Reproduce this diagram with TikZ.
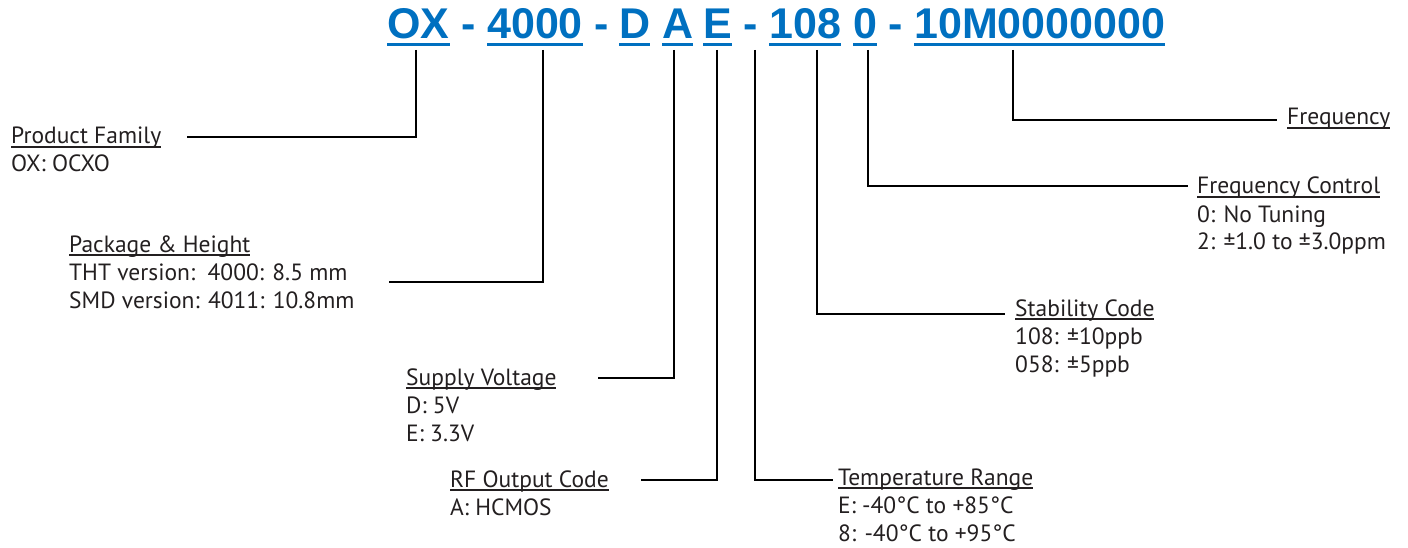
\documentclass[tikz,border=0pt]{standalone}
\usepackage{fontspec}
\setmainfont{PT Sans}
\newfontfamily\titlefont{Liberation Sans}
\definecolor{pnblue}{RGB}{0,112,192}
\definecolor{txtgray}{RGB}{35,31,32}
\newcommand\hdrul[1]{\setbox0\hbox{#1}\rlap{\rule[-3.8pt]{\wd0}{1.5pt}}\box0}
\tikzset{
  lbl/.style={anchor=base west, inner sep=0pt, align=left, text=txtgray,
    font=\fontsize{23.5}{28}\selectfont},
  codepart/.style={anchor=base west, inner sep=0pt, text=pnblue,
    font=\titlefont\bfseries\fontsize{43}{50}\selectfont},
  dashpart/.style={anchor=base, inner sep=0pt, text=pnblue,
    font=\titlefont\bfseries\fontsize{43}{50}\selectfont},
  conn/.style={line width=2.4pt, draw=black, line join=miter},
  uline/.style={line width=3.3pt, draw=pnblue}
}
\begin{document}
\begin{tikzpicture}[x=1pt,y=-1pt]
\useasboundingbox (0,0) rectangle (1408,548);
% part number
\node[codepart] (ox) at (387,39) {OX};
\node[dashpart] (d1) at (468.5,39) {-};
\node[codepart] (n4000) at (487,39) {4000};
\node[dashpart] (d2) at (601.5,39) {-};
\node[codepart] (cd) at (619,39) {D};
\node[codepart] (ca) at (662,39) {A};
\node[codepart] (ce) at (703,39) {E};
\node[dashpart] (d3) at (751,39) {-};
\node[codepart] (n108) at (769,39) {108};
\node[codepart] (cz) at (853,39) {0};
\node[dashpart] (d4) at (895.5,39) {-};
\node[codepart] (freq) at (914,39) {10M0000000};
\foreach \n in {ox,n4000,cd,ca,ce,n108,cz,freq}
  \draw[uline] ([yshift=-5.3pt]\n.base west) -- ([yshift=-5.3pt]\n.base east);
% labels (anchor = baseline of the last line)
\node[lbl] (pf) at (11,172) {\hdrul{Product Family}\\OX: OCXO};
\node[lbl] (ph) at (69,308) {\hdrul{Package \& Height}\\THT version:\ \ 4000: 8.5 mm\\SMD version: 4011: 10.8mm};
\node[lbl] (sv) at (406,441) {\hdrul{Supply Voltage}\\D: 5V\\E: 3.3V};
\node[lbl] (rf) at (450,515) {\hdrul{RF Output Code}\\A: HCMOS};
\node[lbl] (tr) at (838,541) {\hdrul{Temperature Range}\\E: -40°C to +85°C\\8: -40°C to +95°C};
\node[lbl] (sc) at (1015,372) {\hdrul{Stability Code}\\108: ±10ppb\\058: ±5ppb};
\node[lbl] (fc) at (1197,250) {\hdrul{Frequency Control}\\0: No Tuning\\2: ±1.0 to ±3.0ppm};
\node[lbl] (fq) at (1287,125) {\hdrul{Frequency}};
% connector ends
\coordinate (pfe) at (187,137);
\coordinate (phe) at (389,282);
\coordinate (sve) at (598,378);
\coordinate (rfe) at (641,480);
\coordinate (tre) at (833,480);
\coordinate (sce) at (1005,314);
\coordinate (fce) at (1188,186);
\coordinate (fqe) at (1277,120);
% connectors
\draw[conn] ([xshift=29pt,yshift=-11pt]ox.base west) |- (pfe);
\draw[conn] ([xshift=56pt,yshift=-11pt]n4000.base west) |- (phe);
\draw[conn] ([xshift=12pt,yshift=-11pt]ca.base west) |- (sve);
\draw[conn] ([xshift=14pt,yshift=-11pt]ce.base west) |- (rfe);
\draw[conn] ([xshift=4pt,yshift=-11pt]d3.base) |- (tre);
\draw[conn] ([xshift=48pt,yshift=-11pt]n108.base west) |- (sce);
\draw[conn] ([xshift=15pt,yshift=-11pt]cz.base west) |- (fce);
\draw[conn] ([xshift=99pt,yshift=-11pt]freq.base west) |- (fqe);
\end{tikzpicture}
\end{document}
